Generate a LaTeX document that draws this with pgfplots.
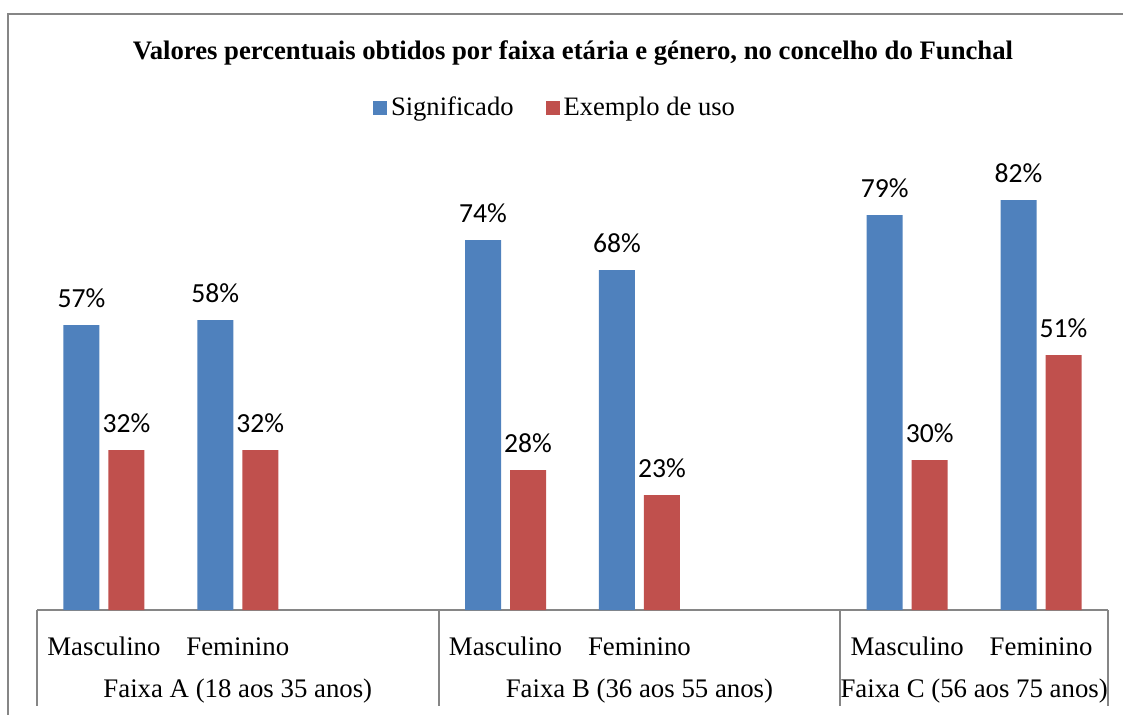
\documentclass[border=0pt]{standalone}
\usepackage{pgfplots}
\pgfplotsset{compat=1.18}
\usepackage{fontspec}
\setmainfont{Liberation Serif}
\newfontfamily\calibri{Carlito}
\definecolor{sigblue}{RGB}{79,129,189}
\definecolor{exred}{RGB}{192,80,77}
\definecolor{axgray}{RGB}{134,134,134}
\begin{document}
\begin{tikzpicture}
\useasboundingbox (0pt,0pt) rectangle (561.5pt,-357pt);
\clip (0pt,0pt) rectangle (561.5pt,-357pt);
\draw[axgray, line width=0.9pt] (4pt,-7pt) rectangle (580pt,-380pt);
\node[font=\bfseries\fontsize{13.35}{15}\selectfont, anchor=base] at (286.5pt,-29.5pt) {Valores percentuais obtidos por faixa etária e género, no concelho do Funchal};
\begin{axis}[
 at={(18.5pt,-305pt)}, anchor=south west,
 scale only axis, width=535.5pt, height=225pt,
 xmin=-0.5, xmax=7.5, ymin=0, ymax=90,
 ybar=4.5pt, bar width=18pt,
 axis x line=bottom, axis y line=none,
 x axis line style={-, axgray, line width=0.9pt},
 xtick={0,1,3,4,6,7},
 xticklabels={Masculino,Feminino,Masculino,Feminino,Masculino,Feminino},
 xtick style={draw=none},
 xticklabel style={anchor=base, yshift=-20.5pt, font=\fontsize{13.4}{15}\selectfont},
 ytick=\empty,
 clip=false,
 /pgf/number format/assume math mode=true,
 nodes near coords={\pgfmathprintnumber{\pgfplotspointmeta}\%},
 nodes near coords style={font=\calibri\fontsize{13.8}{15}\selectfont, anchor=base, yshift=9pt, inner sep=0pt, text=black},
 legend style={at={(0.4846,1.116)}, anchor=center, draw=none, fill=none, legend columns=2, font=\fontsize{13.3}{15}\selectfont, /tikz/every even column/.append style={column sep=14pt}},
 legend image code/.code={\fill[#1] (0pt,-3.5pt) rectangle (7pt,3.5pt);},
]
\addplot[fill=sigblue, draw=none] coordinates {(0,57) (1,58) (3,74) (4,68) (6,79) (7,82)};
\addplot[fill=exred, draw=none] coordinates {(0,32) (1,32) (3,28) (4,23) (6,30) (7,51)};
\legend{Significado, Exemplo de uso}
\draw[axgray, line width=0.9pt] (axis cs:-0.5,0) -- ++(0pt,-48pt);
\draw[axgray, line width=0.9pt] (axis cs:2.5,0) -- ++(0pt,-48pt);
\draw[axgray, line width=0.9pt] (axis cs:5.5,0) -- ++(0pt,-48pt);
\draw[axgray, line width=0.9pt] (axis cs:7.5,0) -- ++(0pt,-48pt);
\node[anchor=base, yshift=-43.5pt, font=\fontsize{13.4}{15}\selectfont] at (axis cs:1,0) {Faixa A (18 aos 35 anos)};
\node[anchor=base, yshift=-43.5pt, font=\fontsize{13.4}{15}\selectfont] at (axis cs:4,0) {Faixa B (36 aos 55 anos)};
\node[anchor=base, yshift=-43.5pt, font=\fontsize{13.4}{15}\selectfont] at (axis cs:6.5,0) {Faixa C (56 aos 75 anos)};
\end{axis}
\end{tikzpicture}
\end{document}
